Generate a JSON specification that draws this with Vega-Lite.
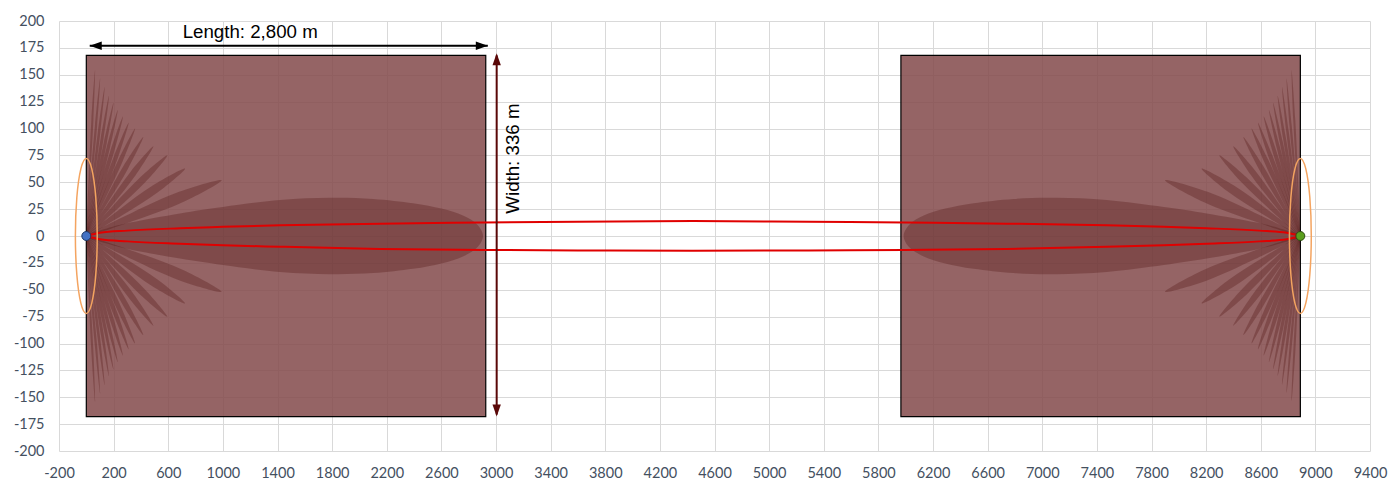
{
"$schema": "https://vega.github.io/schema/vega-lite/v6.json",
"width": 1311, "height": 430,
"autosize": "none",
"padding": {"left": 59, "top": 21, "right": 29, "bottom": 31},
"background": "white",
"config": {"view": {"stroke": null},
 "axis": {"grid": true, "gridColor": "#d9d9d9", "gridWidth": 1, "domain": false, "ticks": false, "labelFont": "Lato", "labelFontSize": 14.5, "labelColor": "#44505f", "title": null, "labelOverlap": false, "labelFlush": false, "labelExpr": "'' + datum.value"}},
"datasets": {
 "rects": [{"x": 0, "x2": 2925, "y": -168, "y2": 168}, {"x": 5965, "x2": 8890, "y": -168, "y2": 168}],
 "lobes": [
  {"g":"m1","i":0,"x":0,"y":0},{"g":"m1","i":1,"x":150,"y":7},{"g":"m1","i":2,"x":320,"y":12.5},{"g":"m1","i":3,"x":686,"y":21},{"g":"m1","i":4,"x":1000,"y":27},{"g":"m1","i":5,"x":1418,"y":33.5},{"g":"m1","i":6,"x":1784,"y":35.5},{"g":"m1","i":7,"x":2100,"y":34.5},{"g":"m1","i":8,"x":2392,"y":30.5},{"g":"m1","i":9,"x":2600,"y":25.5},{"g":"m1","i":10,"x":2758,"y":19},{"g":"m1","i":11,"x":2860,"y":11},{"g":"m1","i":12,"x":2905,"y":0},{"g":"m1","i":13,"x":2860,"y":-11},{"g":"m1","i":14,"x":2758,"y":-19},{"g":"m1","i":15,"x":2600,"y":-25.5},{"g":"m1","i":16,"x":2392,"y":-30.5},{"g":"m1","i":17,"x":2100,"y":-34.5},{"g":"m1","i":18,"x":1784,"y":-35.5},{"g":"m1","i":19,"x":1418,"y":-33.5},{"g":"m1","i":20,"x":1000,"y":-27},{"g":"m1","i":21,"x":686,"y":-21},{"g":"m1","i":22,"x":320,"y":-12.5},{"g":"m1","i":23,"x":150,"y":-7},
  {"g":"m2","i":0,"x":8890,"y":0},{"g":"m2","i":1,"x":8740,"y":7},{"g":"m2","i":2,"x":8570,"y":12.5},{"g":"m2","i":3,"x":8204,"y":21},{"g":"m2","i":4,"x":7890,"y":27},{"g":"m2","i":5,"x":7472,"y":33.5},{"g":"m2","i":6,"x":7106,"y":35.5},{"g":"m2","i":7,"x":6790,"y":34.5},{"g":"m2","i":8,"x":6498,"y":30.5},{"g":"m2","i":9,"x":6290,"y":25.5},{"g":"m2","i":10,"x":6132,"y":19},{"g":"m2","i":11,"x":6030,"y":11},{"g":"m2","i":12,"x":5985,"y":0},{"g":"m2","i":13,"x":6030,"y":-11},{"g":"m2","i":14,"x":6132,"y":-19},{"g":"m2","i":15,"x":6290,"y":-25.5},{"g":"m2","i":16,"x":6498,"y":-30.5},{"g":"m2","i":17,"x":6790,"y":-34.5},{"g":"m2","i":18,"x":7106,"y":-35.5},{"g":"m2","i":19,"x":7472,"y":-33.5},{"g":"m2","i":20,"x":7890,"y":-27},{"g":"m2","i":21,"x":8204,"y":-21},{"g":"m2","i":22,"x":8570,"y":-12.5},{"g":"m2","i":23,"x":8740,"y":-7},

  {"g":"a1","i":0,"x":0,"y":0},{"g":"a1","i":1,"x":335,"y":21.7},{"g":"a1","i":2,"x":679,"y":41.1},{"g":"a1","i":3,"x":991,"y":51.9},{"g":"a1","i":4,"x":709,"y":31.6},{"g":"a1","i":5,"x":358,"y":14.6},
  {"g":"a2","i":0,"x":0,"y":0},{"g":"a2","i":1,"x":240,"y":24.4},{"g":"a2","i":2,"x":489,"y":47.1},{"g":"a2","i":3,"x":723,"y":62.6},{"g":"a2","i":4,"x":524,"y":40.6},{"g":"a2","i":5,"x":266,"y":19.5},
  {"g":"a3","i":0,"x":0,"y":0},{"g":"a3","i":1,"x":194,"y":28},{"g":"a3","i":2,"x":397,"y":54.8},{"g":"a3","i":3,"x":593,"y":75},{"g":"a3","i":4,"x":433,"y":50.2},{"g":"a3","i":5,"x":221,"y":24.5},
  {"g":"a4","i":0,"x":0,"y":0},{"g":"a4","i":1,"x":159,"y":30.5},{"g":"a4","i":2,"x":326,"y":60.1},{"g":"a4","i":3,"x":491,"y":83.4},{"g":"a4","i":4,"x":362,"y":56.7},{"g":"a4","i":5,"x":185,"y":27.9},
  {"g":"a5","i":0,"x":0,"y":0},{"g":"a5","i":1,"x":134,"y":33.1},{"g":"a5","i":2,"x":275,"y":65.7},{"g":"a5","i":3,"x":417,"y":92.1},{"g":"a5","i":4,"x":308,"y":63.3},{"g":"a5","i":5,"x":158,"y":31.3},
  {"g":"a6","i":0,"x":0,"y":0},{"g":"a6","i":1,"x":113,"y":35.6},{"g":"a6","i":2,"x":235,"y":70.9},{"g":"a6","i":3,"x":357,"y":100},{"g":"a6","i":4,"x":265,"y":69.1},{"g":"a6","i":5,"x":136,"y":34.3},
  {"g":"a7","i":0,"x":0,"y":0},{"g":"a7","i":1,"x":98,"y":37.4},{"g":"a7","i":2,"x":203,"y":74.5},{"g":"a7","i":3,"x":310,"y":105.4},{"g":"a7","i":4,"x":232,"y":73.1},{"g":"a7","i":5,"x":119,"y":36.4},
  {"g":"a8","i":0,"x":0,"y":0},{"g":"a8","i":1,"x":84,"y":39.3},{"g":"a8","i":2,"x":174,"y":78.4},{"g":"a8","i":3,"x":268,"y":111.2},{"g":"a8","i":4,"x":201,"y":77.3},{"g":"a8","i":5,"x":104,"y":38.5},
  {"g":"a9","i":0,"x":0,"y":0},{"g":"a9","i":1,"x":72,"y":41.4},{"g":"a9","i":2,"x":149,"y":82.5},{"g":"a9","i":3,"x":230,"y":117.3},{"g":"a9","i":4,"x":173,"y":81.8},{"g":"a9","i":5,"x":90,"y":40.8},
  {"g":"a10","i":0,"x":0,"y":0},{"g":"a10","i":1,"x":61,"y":43.6},{"g":"a10","i":2,"x":128,"y":87.1},{"g":"a10","i":3,"x":199,"y":124},{"g":"a10","i":4,"x":150,"y":86.5},{"g":"a10","i":5,"x":78,"y":43.2},
  {"g":"a11","i":0,"x":0,"y":0},{"g":"a11","i":1,"x":51,"y":45.8},{"g":"a11","i":2,"x":106,"y":91.5},{"g":"a11","i":3,"x":166,"y":130.4},{"g":"a11","i":4,"x":127,"y":91.1},{"g":"a11","i":5,"x":66,"y":45.5},
  {"g":"a12","i":0,"x":0,"y":0},{"g":"a12","i":1,"x":40,"y":48.6},{"g":"a12","i":2,"x":85,"y":97.1},{"g":"a12","i":3,"x":134,"y":138.5},{"g":"a12","i":4,"x":103,"y":96.8},{"g":"a12","i":5,"x":54,"y":48.4},
  {"g":"a13","i":0,"x":0,"y":0},{"g":"a13","i":1,"x":29,"y":51.3},{"g":"a13","i":2,"x":63,"y":102.6},{"g":"a13","i":3,"x":101,"y":146.4},{"g":"a13","i":4,"x":79,"y":102.4},{"g":"a13","i":5,"x":41,"y":51.2},
  {"g":"a14","i":0,"x":0,"y":0},{"g":"a14","i":1,"x":17,"y":54},{"g":"a14","i":2,"x":37,"y":108},{"g":"a14","i":3,"x":64,"y":154.2},{"g":"a14","i":4,"x":52,"y":107.9},{"g":"a14","i":5,"x":28,"y":53.9},

  {"g":"b1","i":0,"x":0,"y":0},{"g":"b1","i":1,"x":335,"y":-21.7},{"g":"b1","i":2,"x":679,"y":-41.1},{"g":"b1","i":3,"x":991,"y":-51.9},{"g":"b1","i":4,"x":709,"y":-31.6},{"g":"b1","i":5,"x":358,"y":-14.6},
  {"g":"b2","i":0,"x":0,"y":0},{"g":"b2","i":1,"x":240,"y":-24.4},{"g":"b2","i":2,"x":489,"y":-47.1},{"g":"b2","i":3,"x":723,"y":-62.6},{"g":"b2","i":4,"x":524,"y":-40.6},{"g":"b2","i":5,"x":266,"y":-19.5},
  {"g":"b3","i":0,"x":0,"y":0},{"g":"b3","i":1,"x":194,"y":-28},{"g":"b3","i":2,"x":397,"y":-54.8},{"g":"b3","i":3,"x":593,"y":-75},{"g":"b3","i":4,"x":433,"y":-50.2},{"g":"b3","i":5,"x":221,"y":-24.5},
  {"g":"b4","i":0,"x":0,"y":0},{"g":"b4","i":1,"x":159,"y":-30.5},{"g":"b4","i":2,"x":326,"y":-60.1},{"g":"b4","i":3,"x":491,"y":-83.4},{"g":"b4","i":4,"x":362,"y":-56.7},{"g":"b4","i":5,"x":185,"y":-27.9},
  {"g":"b5","i":0,"x":0,"y":0},{"g":"b5","i":1,"x":134,"y":-33.1},{"g":"b5","i":2,"x":275,"y":-65.7},{"g":"b5","i":3,"x":417,"y":-92.1},{"g":"b5","i":4,"x":308,"y":-63.3},{"g":"b5","i":5,"x":158,"y":-31.3},
  {"g":"b6","i":0,"x":0,"y":0},{"g":"b6","i":1,"x":113,"y":-35.6},{"g":"b6","i":2,"x":235,"y":-70.9},{"g":"b6","i":3,"x":357,"y":-100},{"g":"b6","i":4,"x":265,"y":-69.1},{"g":"b6","i":5,"x":136,"y":-34.3},
  {"g":"b7","i":0,"x":0,"y":0},{"g":"b7","i":1,"x":98,"y":-37.4},{"g":"b7","i":2,"x":203,"y":-74.5},{"g":"b7","i":3,"x":310,"y":-105.4},{"g":"b7","i":4,"x":232,"y":-73.1},{"g":"b7","i":5,"x":119,"y":-36.4},
  {"g":"b8","i":0,"x":0,"y":0},{"g":"b8","i":1,"x":84,"y":-39.3},{"g":"b8","i":2,"x":174,"y":-78.4},{"g":"b8","i":3,"x":268,"y":-111.2},{"g":"b8","i":4,"x":201,"y":-77.3},{"g":"b8","i":5,"x":104,"y":-38.5},
  {"g":"b9","i":0,"x":0,"y":0},{"g":"b9","i":1,"x":72,"y":-41.4},{"g":"b9","i":2,"x":149,"y":-82.5},{"g":"b9","i":3,"x":230,"y":-117.3},{"g":"b9","i":4,"x":173,"y":-81.8},{"g":"b9","i":5,"x":90,"y":-40.8},
  {"g":"b10","i":0,"x":0,"y":0},{"g":"b10","i":1,"x":61,"y":-43.6},{"g":"b10","i":2,"x":128,"y":-87.1},{"g":"b10","i":3,"x":199,"y":-124},{"g":"b10","i":4,"x":150,"y":-86.5},{"g":"b10","i":5,"x":78,"y":-43.2},
  {"g":"b11","i":0,"x":0,"y":0},{"g":"b11","i":1,"x":51,"y":-45.8},{"g":"b11","i":2,"x":106,"y":-91.5},{"g":"b11","i":3,"x":166,"y":-130.4},{"g":"b11","i":4,"x":127,"y":-91.1},{"g":"b11","i":5,"x":66,"y":-45.5},
  {"g":"b12","i":0,"x":0,"y":0},{"g":"b12","i":1,"x":40,"y":-48.6},{"g":"b12","i":2,"x":85,"y":-97.1},{"g":"b12","i":3,"x":134,"y":-138.5},{"g":"b12","i":4,"x":103,"y":-96.8},{"g":"b12","i":5,"x":54,"y":-48.4},
  {"g":"b13","i":0,"x":0,"y":0},{"g":"b13","i":1,"x":29,"y":-51.3},{"g":"b13","i":2,"x":63,"y":-102.6},{"g":"b13","i":3,"x":101,"y":-146.4},{"g":"b13","i":4,"x":79,"y":-102.4},{"g":"b13","i":5,"x":41,"y":-51.2},
  {"g":"b14","i":0,"x":0,"y":0},{"g":"b14","i":1,"x":17,"y":-54},{"g":"b14","i":2,"x":37,"y":-108},{"g":"b14","i":3,"x":64,"y":-154.2},{"g":"b14","i":4,"x":52,"y":-107.9},{"g":"b14","i":5,"x":28,"y":-53.9},

  {"g":"c1","i":0,"x":8890,"y":0},{"g":"c1","i":1,"x":8555,"y":21.7},{"g":"c1","i":2,"x":8211,"y":41.1},{"g":"c1","i":3,"x":7899,"y":51.9},{"g":"c1","i":4,"x":8181,"y":31.6},{"g":"c1","i":5,"x":8532,"y":14.6},
  {"g":"c2","i":0,"x":8890,"y":0},{"g":"c2","i":1,"x":8650,"y":24.4},{"g":"c2","i":2,"x":8401,"y":47.1},{"g":"c2","i":3,"x":8167,"y":62.6},{"g":"c2","i":4,"x":8366,"y":40.6},{"g":"c2","i":5,"x":8624,"y":19.5},
  {"g":"c3","i":0,"x":8890,"y":0},{"g":"c3","i":1,"x":8696,"y":28},{"g":"c3","i":2,"x":8493,"y":54.8},{"g":"c3","i":3,"x":8297,"y":75},{"g":"c3","i":4,"x":8457,"y":50.2},{"g":"c3","i":5,"x":8669,"y":24.5},
  {"g":"c4","i":0,"x":8890,"y":0},{"g":"c4","i":1,"x":8731,"y":30.5},{"g":"c4","i":2,"x":8564,"y":60.1},{"g":"c4","i":3,"x":8399,"y":83.4},{"g":"c4","i":4,"x":8528,"y":56.7},{"g":"c4","i":5,"x":8705,"y":27.9},
  {"g":"c5","i":0,"x":8890,"y":0},{"g":"c5","i":1,"x":8756,"y":33.1},{"g":"c5","i":2,"x":8615,"y":65.7},{"g":"c5","i":3,"x":8473,"y":92.1},{"g":"c5","i":4,"x":8582,"y":63.3},{"g":"c5","i":5,"x":8732,"y":31.3},
  {"g":"c6","i":0,"x":8890,"y":0},{"g":"c6","i":1,"x":8777,"y":35.6},{"g":"c6","i":2,"x":8655,"y":70.9},{"g":"c6","i":3,"x":8533,"y":100},{"g":"c6","i":4,"x":8625,"y":69.1},{"g":"c6","i":5,"x":8754,"y":34.3},
  {"g":"c7","i":0,"x":8890,"y":0},{"g":"c7","i":1,"x":8792,"y":37.4},{"g":"c7","i":2,"x":8687,"y":74.5},{"g":"c7","i":3,"x":8580,"y":105.4},{"g":"c7","i":4,"x":8658,"y":73.1},{"g":"c7","i":5,"x":8771,"y":36.4},
  {"g":"c8","i":0,"x":8890,"y":0},{"g":"c8","i":1,"x":8806,"y":39.3},{"g":"c8","i":2,"x":8716,"y":78.4},{"g":"c8","i":3,"x":8622,"y":111.2},{"g":"c8","i":4,"x":8689,"y":77.3},{"g":"c8","i":5,"x":8786,"y":38.5},
  {"g":"c9","i":0,"x":8890,"y":0},{"g":"c9","i":1,"x":8818,"y":41.4},{"g":"c9","i":2,"x":8741,"y":82.5},{"g":"c9","i":3,"x":8660,"y":117.3},{"g":"c9","i":4,"x":8717,"y":81.8},{"g":"c9","i":5,"x":8800,"y":40.8},
  {"g":"c10","i":0,"x":8890,"y":0},{"g":"c10","i":1,"x":8829,"y":43.6},{"g":"c10","i":2,"x":8762,"y":87.1},{"g":"c10","i":3,"x":8691,"y":124},{"g":"c10","i":4,"x":8740,"y":86.5},{"g":"c10","i":5,"x":8812,"y":43.2},
  {"g":"c11","i":0,"x":8890,"y":0},{"g":"c11","i":1,"x":8839,"y":45.8},{"g":"c11","i":2,"x":8784,"y":91.5},{"g":"c11","i":3,"x":8724,"y":130.4},{"g":"c11","i":4,"x":8763,"y":91.1},{"g":"c11","i":5,"x":8824,"y":45.5},
  {"g":"c12","i":0,"x":8890,"y":0},{"g":"c12","i":1,"x":8850,"y":48.6},{"g":"c12","i":2,"x":8805,"y":97.1},{"g":"c12","i":3,"x":8756,"y":138.5},{"g":"c12","i":4,"x":8787,"y":96.8},{"g":"c12","i":5,"x":8836,"y":48.4},
  {"g":"c13","i":0,"x":8890,"y":0},{"g":"c13","i":1,"x":8861,"y":51.3},{"g":"c13","i":2,"x":8827,"y":102.6},{"g":"c13","i":3,"x":8789,"y":146.4},{"g":"c13","i":4,"x":8811,"y":102.4},{"g":"c13","i":5,"x":8849,"y":51.2},
  {"g":"c14","i":0,"x":8890,"y":0},{"g":"c14","i":1,"x":8873,"y":54},{"g":"c14","i":2,"x":8853,"y":108},{"g":"c14","i":3,"x":8826,"y":154.2},{"g":"c14","i":4,"x":8838,"y":107.9},{"g":"c14","i":5,"x":8862,"y":53.9},

  {"g":"d1","i":0,"x":8890,"y":0},{"g":"d1","i":1,"x":8555,"y":-21.7},{"g":"d1","i":2,"x":8211,"y":-41.1},{"g":"d1","i":3,"x":7899,"y":-51.9},{"g":"d1","i":4,"x":8181,"y":-31.6},{"g":"d1","i":5,"x":8532,"y":-14.6},
  {"g":"d2","i":0,"x":8890,"y":0},{"g":"d2","i":1,"x":8650,"y":-24.4},{"g":"d2","i":2,"x":8401,"y":-47.1},{"g":"d2","i":3,"x":8167,"y":-62.6},{"g":"d2","i":4,"x":8366,"y":-40.6},{"g":"d2","i":5,"x":8624,"y":-19.5},
  {"g":"d3","i":0,"x":8890,"y":0},{"g":"d3","i":1,"x":8696,"y":-28},{"g":"d3","i":2,"x":8493,"y":-54.8},{"g":"d3","i":3,"x":8297,"y":-75},{"g":"d3","i":4,"x":8457,"y":-50.2},{"g":"d3","i":5,"x":8669,"y":-24.5},
  {"g":"d4","i":0,"x":8890,"y":0},{"g":"d4","i":1,"x":8731,"y":-30.5},{"g":"d4","i":2,"x":8564,"y":-60.1},{"g":"d4","i":3,"x":8399,"y":-83.4},{"g":"d4","i":4,"x":8528,"y":-56.7},{"g":"d4","i":5,"x":8705,"y":-27.9},
  {"g":"d5","i":0,"x":8890,"y":0},{"g":"d5","i":1,"x":8756,"y":-33.1},{"g":"d5","i":2,"x":8615,"y":-65.7},{"g":"d5","i":3,"x":8473,"y":-92.1},{"g":"d5","i":4,"x":8582,"y":-63.3},{"g":"d5","i":5,"x":8732,"y":-31.3},
  {"g":"d6","i":0,"x":8890,"y":0},{"g":"d6","i":1,"x":8777,"y":-35.6},{"g":"d6","i":2,"x":8655,"y":-70.9},{"g":"d6","i":3,"x":8533,"y":-100},{"g":"d6","i":4,"x":8625,"y":-69.1},{"g":"d6","i":5,"x":8754,"y":-34.3},
  {"g":"d7","i":0,"x":8890,"y":0},{"g":"d7","i":1,"x":8792,"y":-37.4},{"g":"d7","i":2,"x":8687,"y":-74.5},{"g":"d7","i":3,"x":8580,"y":-105.4},{"g":"d7","i":4,"x":8658,"y":-73.1},{"g":"d7","i":5,"x":8771,"y":-36.4},
  {"g":"d8","i":0,"x":8890,"y":0},{"g":"d8","i":1,"x":8806,"y":-39.3},{"g":"d8","i":2,"x":8716,"y":-78.4},{"g":"d8","i":3,"x":8622,"y":-111.2},{"g":"d8","i":4,"x":8689,"y":-77.3},{"g":"d8","i":5,"x":8786,"y":-38.5},
  {"g":"d9","i":0,"x":8890,"y":0},{"g":"d9","i":1,"x":8818,"y":-41.4},{"g":"d9","i":2,"x":8741,"y":-82.5},{"g":"d9","i":3,"x":8660,"y":-117.3},{"g":"d9","i":4,"x":8717,"y":-81.8},{"g":"d9","i":5,"x":8800,"y":-40.8},
  {"g":"d10","i":0,"x":8890,"y":0},{"g":"d10","i":1,"x":8829,"y":-43.6},{"g":"d10","i":2,"x":8762,"y":-87.1},{"g":"d10","i":3,"x":8691,"y":-124},{"g":"d10","i":4,"x":8740,"y":-86.5},{"g":"d10","i":5,"x":8812,"y":-43.2},
  {"g":"d11","i":0,"x":8890,"y":0},{"g":"d11","i":1,"x":8839,"y":-45.8},{"g":"d11","i":2,"x":8784,"y":-91.5},{"g":"d11","i":3,"x":8724,"y":-130.4},{"g":"d11","i":4,"x":8763,"y":-91.1},{"g":"d11","i":5,"x":8824,"y":-45.5},
  {"g":"d12","i":0,"x":8890,"y":0},{"g":"d12","i":1,"x":8850,"y":-48.6},{"g":"d12","i":2,"x":8805,"y":-97.1},{"g":"d12","i":3,"x":8756,"y":-138.5},{"g":"d12","i":4,"x":8787,"y":-96.8},{"g":"d12","i":5,"x":8836,"y":-48.4},
  {"g":"d13","i":0,"x":8890,"y":0},{"g":"d13","i":1,"x":8861,"y":-51.3},{"g":"d13","i":2,"x":8827,"y":-102.6},{"g":"d13","i":3,"x":8789,"y":-146.4},{"g":"d13","i":4,"x":8811,"y":-102.4},{"g":"d13","i":5,"x":8849,"y":-51.2},
  {"g":"d14","i":0,"x":8890,"y":0},{"g":"d14","i":1,"x":8873,"y":-54},{"g":"d14","i":2,"x":8853,"y":-108},{"g":"d14","i":3,"x":8826,"y":-154.2},{"g":"d14","i":4,"x":8838,"y":-107.9},{"g":"d14","i":5,"x":8862,"y":-53.9}
 ],
 "red": [
  {"g":"up","x":0,"y":0},{"g":"up","x":100,"y":3},{"g":"up","x":300,"y":5},{"g":"up","x":686,"y":7.2},{"g":"up","x":1000,"y":8.5},{"g":"up","x":1418,"y":10},{"g":"up","x":2150,"y":11.5},{"g":"up","x":2900,"y":12.5},{"g":"up","x":3600,"y":13.2},{"g":"up","x":4445,"y":14},{"g":"up","x":5290,"y":13.2},{"g":"up","x":5990,"y":12.5},{"g":"up","x":6740,"y":11.5},{"g":"up","x":7472,"y":10},{"g":"up","x":7890,"y":8.5},{"g":"up","x":8204,"y":7.2},{"g":"up","x":8590,"y":5},{"g":"up","x":8790,"y":3},{"g":"up","x":8890,"y":0},
  {"g":"lo","x":0,"y":0},{"g":"lo","x":100,"y":-3},{"g":"lo","x":300,"y":-5},{"g":"lo","x":686,"y":-7.2},{"g":"lo","x":1000,"y":-8.6},{"g":"lo","x":1418,"y":-10},{"g":"lo","x":2150,"y":-12},{"g":"lo","x":2900,"y":-13},{"g":"lo","x":3600,"y":-13.4},{"g":"lo","x":4445,"y":-13.8},{"g":"lo","x":5290,"y":-13.4},{"g":"lo","x":5990,"y":-13},{"g":"lo","x":6740,"y":-12},{"g":"lo","x":7472,"y":-10},{"g":"lo","x":7890,"y":-8.6},{"g":"lo","x":8204,"y":-7.2},{"g":"lo","x":8590,"y":-5},{"g":"lo","x":8790,"y":-3},{"g":"lo","x":8890,"y":0}
 ],
 "ellipses": [
  {"g":"eL","i":0,"x":80,"y":0},{"g":"eL","i":1,"x":69.3,"y":36},{"g":"eL","i":2,"x":40,"y":62.4},{"g":"eL","i":3,"x":0,"y":72},{"g":"eL","i":4,"x":-40,"y":62.4},{"g":"eL","i":5,"x":-69.3,"y":36},{"g":"eL","i":6,"x":-80,"y":0},{"g":"eL","i":7,"x":-69.3,"y":-36},{"g":"eL","i":8,"x":-40,"y":-62.4},{"g":"eL","i":9,"x":0,"y":-72},{"g":"eL","i":10,"x":40,"y":-62.4},{"g":"eL","i":11,"x":69.3,"y":-36},
  {"g":"eR","i":0,"x":8970,"y":0},{"g":"eR","i":1,"x":8959.3,"y":36},{"g":"eR","i":2,"x":8930,"y":62.4},{"g":"eR","i":3,"x":8890,"y":72},{"g":"eR","i":4,"x":8850,"y":62.4},{"g":"eR","i":5,"x":8820.7,"y":36},{"g":"eR","i":6,"x":8810,"y":0},{"g":"eR","i":7,"x":8820.7,"y":-36},{"g":"eR","i":8,"x":8850,"y":-62.4},{"g":"eR","i":9,"x":8890,"y":-72},{"g":"eR","i":10,"x":8930,"y":-62.4},{"g":"eR","i":11,"x":8959.3,"y":-36}
 ],
 "tx": [{"x": 0, "y": 0}],
 "rx": [{"x": 8890, "y": 0}],
 "hRule": [{"x": 25, "x2": 2940, "y": 177}],
 "vRule": [{"x": 3005, "y": -166, "y2": 168}],
 "hHeads": [{"x": 25, "y": 177, "d": "l"}, {"x": 2940, "y": 177, "d": "r"}],
 "vHeads": [{"x": 3005, "y": 170, "d": "u"}, {"x": 3005, "y": -168, "d": "d"}],
 "hLabel": [{"t": "Length: 2,800 m", "x": 1200, "y": 190}],
 "vLabel": [{"t": "Width: 336 m", "x": 3124, "y": 72}]
},
"encoding": {
 "x": {"field": "x", "type": "quantitative", "scale": {"domain": [-200, 9400], "nice": false, "zero": false},
   "axis": {"values": [-200,200,600,1000,1400,1800,2200,2600,3000,3400,3800,4200,4600,5000,5400,5800,6200,6600,7000,7400,7800,8200,8600,9000,9400], "labelPadding": 15}},
 "y": {"field": "y", "type": "quantitative", "scale": {"domain": [-200, 200], "nice": false, "zero": false},
   "axis": {"values": [-200,-175,-150,-125,-100,-75,-50,-25,0,25,50,75,100,125,150,175,200], "labelPadding": 15}}
},
"layer": [
 {"data": {"name": "rects"}, "mark": {"type": "rect", "fill": "#83494a", "fillOpacity": 0.85, "stroke": "#000000", "strokeWidth": 1.2},
  "encoding": {"x2": {"field": "x2"}, "y2": {"field": "y2"}}},
 {"data": {"name": "lobes"}, "mark": {"type": "line", "interpolate": "cardinal-closed", "fill": "#501614", "fillOpacity": 0.32, "strokeWidth": 0, "stroke": null},
  "encoding": {"detail": {"field": "g"}, "order": {"field": "i", "type": "quantitative"}}},
 {"data": {"name": "red"}, "mark": {"type": "line", "interpolate": "monotone", "color": "#e00000", "strokeWidth": 2},
  "encoding": {"detail": {"field": "g"}}},
 {"data": {"name": "ellipses"}, "mark": {"type": "line", "interpolate": "cardinal-closed", "color": "#f4a460", "strokeWidth": 1.5},
  "encoding": {"detail": {"field": "g"}, "order": {"field": "i", "type": "quantitative"}}},
 {"data": {"name": "tx"}, "mark": {"type": "point", "shape": "circle", "filled": true, "fill": "#4472c4", "stroke": "#1f3864", "strokeWidth": 1, "size": 80, "opacity": 1}},
 {"data": {"name": "rx"}, "mark": {"type": "point", "shape": "circle", "filled": true, "fill": "#5a9e1e", "stroke": "#2e4d12", "strokeWidth": 1, "size": 80, "opacity": 1}},
 {"data": {"name": "hRule"}, "mark": {"type": "rule", "color": "#000000", "strokeWidth": 2},
  "encoding": {"x2": {"field": "x2"}}},
 {"data": {"name": "vRule"}, "mark": {"type": "rule", "color": "#5a0808", "strokeWidth": 2},
  "encoding": {"y2": {"field": "y2"}}},
 {"data": {"name": "hHeads"}, "mark": {"type": "point", "filled": true, "color": "#000000", "size": 576, "opacity": 1},
  "encoding": {"shape": {"field": "d", "type": "nominal", "legend": null, "scale": {"domain": ["l", "r", "u", "d"], "range": ["M0,0L1,-0.35L1,0.35Z", "M0,0L-1,-0.35L-1,0.35Z", "M0,0L-0.35,1L0.35,1Z", "M0,0L-0.35,-1L0.35,-1Z"]}}}},
 {"data": {"name": "vHeads"}, "mark": {"type": "point", "filled": true, "color": "#5a0808", "size": 576, "opacity": 1},
  "encoding": {"shape": {"field": "d", "type": "nominal", "legend": null, "scale": {"domain": ["l", "r", "u", "d"], "range": ["M0,0L1,-0.35L1,0.35Z", "M0,0L-1,-0.35L-1,0.35Z", "M0,0L-0.35,1L0.35,1Z", "M0,0L-0.35,-1L0.35,-1Z"]}}}},
 {"data": {"name": "hLabel"}, "mark": {"type": "text", "font": "Liberation Sans", "fontSize": 18.7, "color": "#000000", "baseline": "middle", "align": "center"},
  "encoding": {"text": {"field": "t"}}},
 {"data": {"name": "vLabel"}, "mark": {"type": "text", "font": "Liberation Sans", "fontSize": 18.7, "color": "#000000", "baseline": "middle", "align": "center", "angle": 270},
  "encoding": {"text": {"field": "t"}}}
]
}
